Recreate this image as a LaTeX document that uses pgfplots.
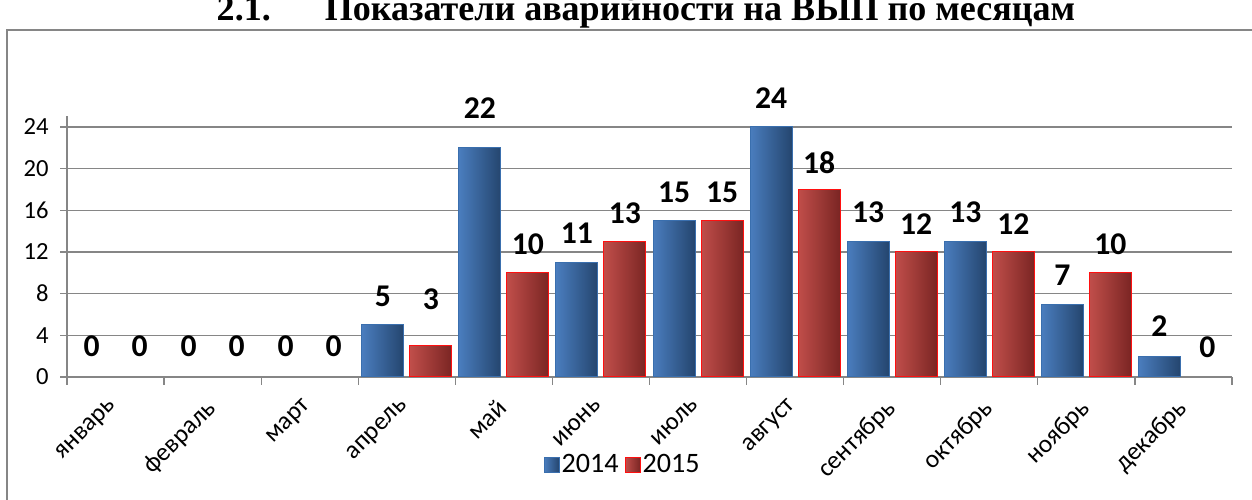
\documentclass[border=0pt]{standalone}
\usepackage{pgfplots}
\pgfplotsset{compat=1.18}
\usepackage{pgfplotstable}
\usepackage{fontspec}
\setmainfont{Carlito}
\newfontfamily\titlefont{Liberation Serif}
\definecolor{gridgray}{HTML}{868686}
\definecolor{bluemid}{HTML}{5B8FD0}
\definecolor{blueleft}{HTML}{4A7DBE}
\definecolor{blueright}{HTML}{24456E}
\definecolor{blueedge}{HTML}{3A6FAE}
\definecolor{redmid}{HTML}{D0605C}
\definecolor{redleft}{HTML}{C04E4A}
\definecolor{redright}{HTML}{7A2523}
\definecolor{rededge}{HTML}{FF1010}

\pgfplotsset{
 bluebar/.style={draw=blueedge, line width=0.02cm, left color=blueleft, middle color=bluemid, right color=blueright},
 redbar/.style={draw=rededge, line width=0.02cm, left color=redleft, middle color=redmid, right color=redright},
 bluepos/.style={ybar, bar width=0.84cm, bar shift=-0.48cm, every node near coord/.append style={xshift=-0.48cm}},
 redpos/.style={ybar, bar width=0.84cm, bar shift=0.48cm, every node near coord/.append style={xshift=0.48cm}},
}

\pgfplotstableread{
x y off
0.5 0 31
1.5 0 31
2.5 0 31
3.5 5 29
4.5 22 40
5.5 11 29
6.5 15 28
7.5 24 29
8.5 13 29
9.5 13 29
10.5 7 29
11.5 2 30
}\dataA

\pgfplotstableread{
x y off
0.5 0 31
1.5 0 31
2.5 0 31
3.5 3 46
4.5 10 29
5.5 13 28
6.5 15 28
7.5 18 27
8.5 12 28
9.5 12 28
10.5 10 29
11.5 0 30
}\dataB

\begin{document}
\begin{tikzpicture}
\useasboundingbox (0,0) rectangle (25.04,10);
\clip (0,0) rectangle (25.04,10);
\fill[white] (0,0) rectangle (25.04,10);
\node[anchor=base, font=\titlefont\bfseries\fontsize{20.5}{24}\selectfont, inner sep=0pt] at (12.92,9.58) {2.1.\hspace{1.5em}Показатели аварийности на ВЫП по месяцам};
\draw[gridgray, line width=0.04cm] (0.14,-1) -- (0.14,9.4) -- (26,9.4);
\begin{axis}[
 at={(1.34cm,2.46cm)}, anchor=south west, scale only axis,
 width=23.3cm, height=5.21cm,
 xmin=0, xmax=12, ymin=0, ymax=25,
 axis x line=bottom, axis y line=left,
 axis line style={gridgray, line width=0.024cm, -},
 ytick={0,4,...,24}, ymajorgrids, grid style={gridgray, line width=0.024cm},
 xtick={0.5,1.5,...,11.5},
 xticklabels={январь,февраль,март,апрель,май,июнь,июль,август,сентябрь,октябрь,ноябрь,декабрь},
 minor xtick={0,1,...,12},
 tick align=outside,
 major tick length=0.14cm, minor tick length=0.16cm,
 major x tick style={draw=none},
 tick style={gridgray, line width=0.024cm},
 /pgf/number format/assume math mode=true,
 tick label style={font=\fontsize{14}{16}\selectfont},
 yticklabel style={inner sep=0pt, xshift=-0.22cm},
 xticklabel style={xshift=-0.16cm, yshift=-0.26cm, rotate=45, anchor=north east, inner sep=0pt, font=\fontsize{14.5}{16}\selectfont},
 nodes near coords,
 visualization depends on={\thisrow{off} \as \myoff},
 every node near coord/.append style={anchor=center, yshift=\myoff*0.02cm, font=\bfseries\fontsize{18}{20}\selectfont, text=black},
 legend columns=2,
 legend style={draw=none, fill=none, at={(0.477,-0.337)}, anchor=center, font=\fontsize{16}{18}\selectfont, nodes={inner sep=0.04cm}, /tikz/every even column/.append style={column sep=0.08cm}},
 legend image code/.code={\draw[#1] (0cm,-0.15cm) rectangle (0.3cm,0.15cm);},
]
% months with no accidents: labels only
\addplot[bluepos, draw=none, fill=none, forget plot, restrict x to domain=0:2.99] table[x=x, y=y] {\dataA};
\addplot[redpos, draw=none, fill=none, forget plot, restrict x to domain=0:2.99] table[x=x, y=y] {\dataB};
\addplot[redpos, draw=none, fill=none, forget plot, restrict x to domain=11:11.99] table[x=x, y=y] {\dataB};
\pgfplotsinvokeforeach{3,...,11}{
 \addplot[bluebar, bluepos, forget plot, restrict x to domain=#1:#1.99] table[x=x, y=y] {\dataA};
}
\pgfplotsinvokeforeach{3,...,10}{
 \addplot[redbar, redpos, forget plot, restrict x to domain=#1:#1.99] table[x=x, y=y] {\dataB};
}
\addlegendimage{bluebar}
\addlegendentry{2014}
\addlegendimage{redbar}
\addlegendentry{2015}
\end{axis}
\end{tikzpicture}
\end{document}
